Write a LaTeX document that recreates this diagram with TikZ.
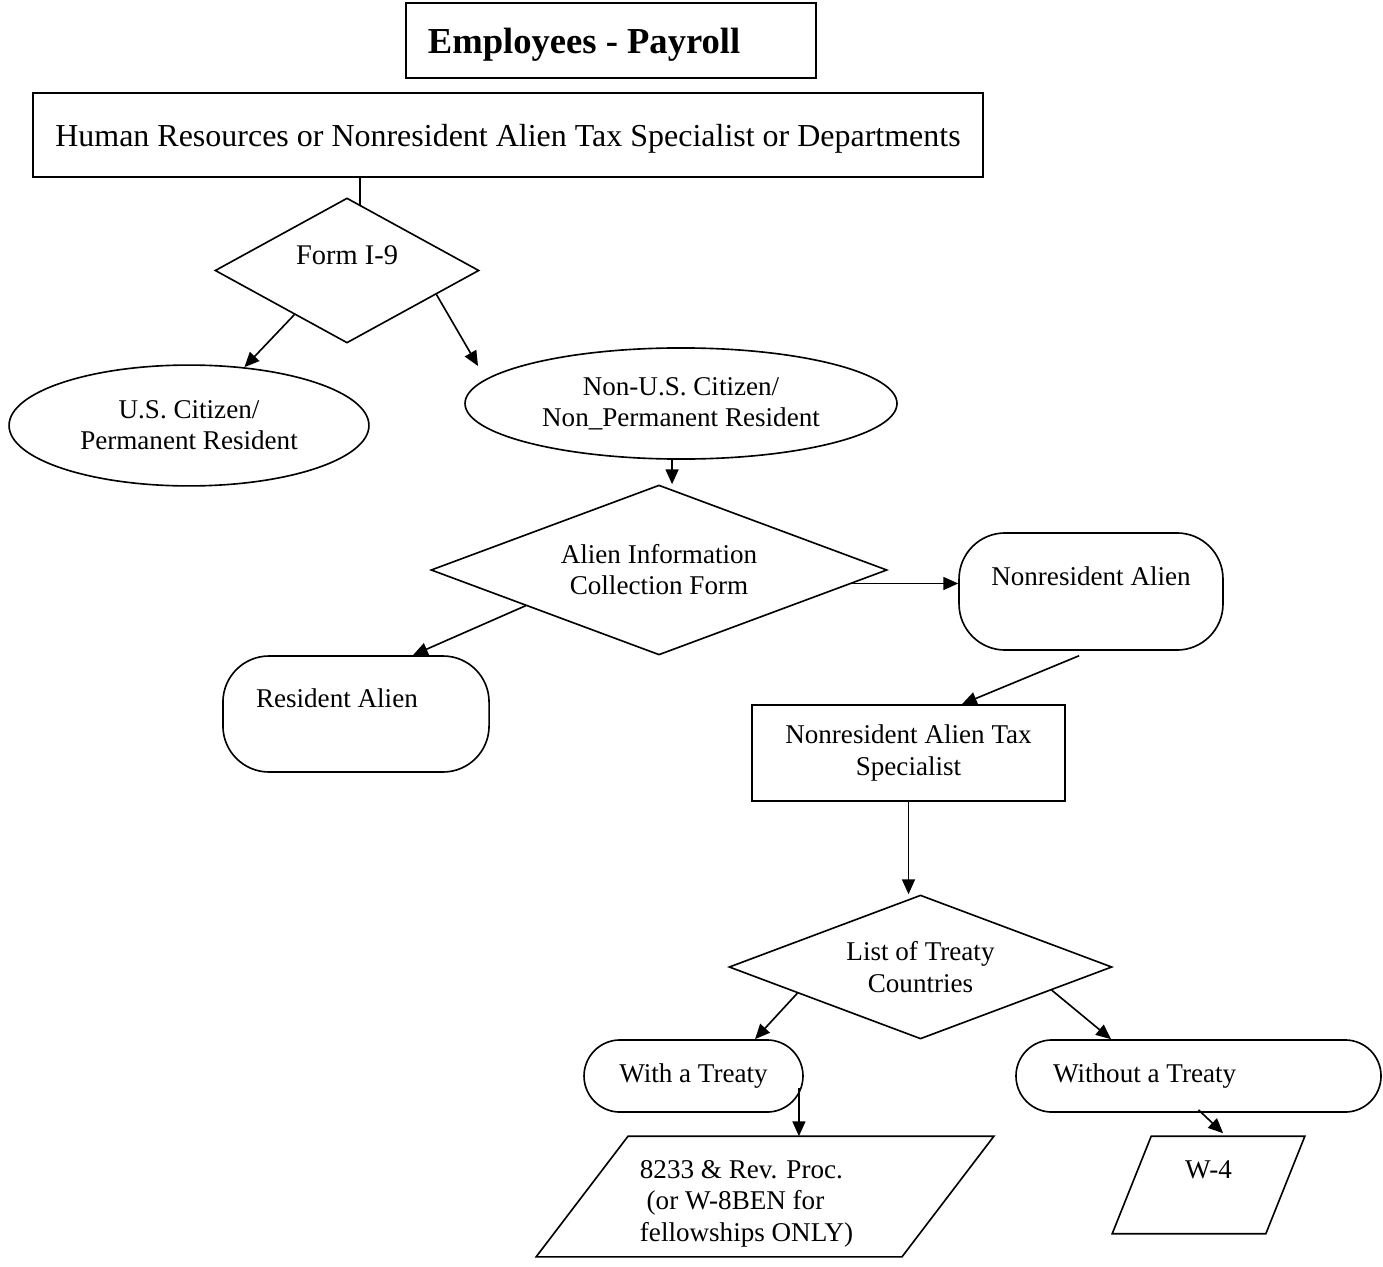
\documentclass[tikz,border=0pt]{standalone}
\usepackage{fontspec}
\setmainfont{Liberation Serif}
\usetikzlibrary{shapes.geometric,arrows.meta}

\begin{document}
\begin{tikzpicture}[x=0.369pt,y=-0.369pt,line width=0.6pt,
  >={Triangle[length=5.5pt,width=4.8pt]},
  txt/.style={font=\fontsize{10pt}{11.5pt}\selectfont,align=center},
  dia/.style={txt,diamond,draw,inner sep=0pt,shape aspect=2.6},
  blob/.style={txt,ellipse,draw,inner sep=0pt},
  pill/.style={txt,rectangle,draw,rounded corners=#1}]
\useasboundingbox (0,0) rectangle (1383,1266);

\coordinate (T) at (611,40.5);
\coordinate (H) at (508,135);
\coordinate (F) at (347,270.5);
\coordinate (U) at (189,425.5);
\coordinate (N) at (681,403.5);
\coordinate (A) at (659,570);
\coordinate (R) at (356,714);
\coordinate (Q) at (1091,591.5);
\coordinate (S) at (908.5,753);
\coordinate (L) at (920.5,967);
\coordinate (W) at (693.5,1076);
\coordinate (X) at (1198.5,1076);
\coordinate (P) at (765,1196.5);
\coordinate (V) at (1208.5,1185);

\node[rectangle,draw,minimum width=151.3pt,minimum height=27.7pt,inner xsep=8.1pt,text width=135.1pt,text depth=0pt,align=flush left,font=\fontsize{13.5pt}{16pt}\selectfont\bfseries] (title) at (T) {Employees - Payroll};
\node[rectangle,draw,minimum width=350.6pt,minimum height=31pt,text depth=0pt,font=\fontsize{11.8pt}{14pt}\selectfont] (hr) at (H) {Human Resources or Nonresident Alien Tax Specialist or Departments};

\node[dia,minimum width=97.4pt,minimum height=53.5pt,font=\fontsize{10.5pt}{11.5pt}\selectfont] (form) at (F) {Form I-9\\\mbox{}};
\node[blob,inner xsep=-2pt,minimum width=132.8pt,minimum height=44.6pt] (uscit) at (U) {U.S. Citizen/\\Permanent Resident};
\node[blob,minimum width=159.4pt,minimum height=41pt] (nonus) at (N) {Non-U.S. Citizen/\\Non\_Permanent Resident};
\node[dia,minimum width=168.3pt,minimum height=62.7pt] (aicf) at (A) {Alien Information\\Collection Form};
\node[pill=17pt,minimum width=98.2pt,minimum height=42.8pt,inner xsep=12.2pt,text width=73.8pt,align=flush left] (ra) at (R) {Resident Alien\\\mbox{}};
\node[pill=17pt,minimum width=97.4pt,minimum height=43.2pt] (nra) at (Q) {Nonresident Alien\\\mbox{}};
\node[txt,rectangle,draw,minimum width=115.5pt,minimum height=35.4pt] (nrats) at (S) {Nonresident Alien Tax\\Specialist};
\node[dia,minimum width=141.3pt,minimum height=53.1pt] (treaty) at (L) {List of Treaty\\Countries};
\node[pill=13.3pt,minimum width=80.8pt,minimum height=26.6pt] (with) at (W) {With a Treaty};
\node[pill=13.3pt,minimum width=134.7pt,minimum height=26.6pt,inner xsep=13.7pt,text width=107.3pt,align=flush left] (without) at (X) {Without a Treaty};
\node[txt,inner sep=0pt,minimum width=168.3pt,minimum height=43.9pt,text width=92.3pt,align=flush left] (f8233) at (P) {\rule{0pt}{12pt}8233 \& Rev. Proc.\\\ (or W-8BEN for\\fellowships ONLY)};
\node[txt,inner sep=0pt,minimum width=70.5pt,minimum height=35.4pt] (w4) at (V) {W-4\\\mbox{}};

% slanted outlines of the two form boxes
\draw ([xshift=33.9pt]f8233.north west) -- (f8233.north east) -- ([xshift=-33.9pt]f8233.south east) -- (f8233.south west) -- cycle;
\draw ([xshift=14.4pt]w4.north west) -- (w4.north east) -- ([xshift=-14.4pt]w4.south east) -- (w4.south west) -- cycle;

\coordinate (hrdrop) at (360,205);
\coordinate (nonustip) at (478,366);

\draw (hrdrop |- hr.south) -- (hrdrop);
\draw[->] (form.-140) -- (uscit);
\draw[->] (form.-15) -- (nonustip);
\draw[->] ([xshift=-3.3pt]nonus.south) -- ([xshift=-3.3pt]nonus.south |- aicf.north);
\draw[->] (aicf.-4) -- (aicf.-4 -| nra.west);
\draw[->] (aicf.-165) -- ([xshift=21pt]ra.north);
\draw[->] ([xshift=-4.4pt,yshift=-1.8pt]nra.south) -- ([xshift=19.7pt]nrats.north);
\draw[->] (nrats.south) -- (nrats.south |- treaty.north);
\draw[->] (treaty.-168) -- ([xshift=22.7pt]with.north);
\draw[->] (treaty.-10) -- ([xshift=-32.3pt]without.north);
\draw[->] ([xshift=38.9pt,yshift=-4.4pt]with.center) -- ([xshift=38.9pt]with.center |- f8233.north);
\draw[->] ([yshift=1.1pt]without.south) -- ([xshift=5.4pt,yshift=1.1pt]w4.north);

\end{tikzpicture}
\end{document}
